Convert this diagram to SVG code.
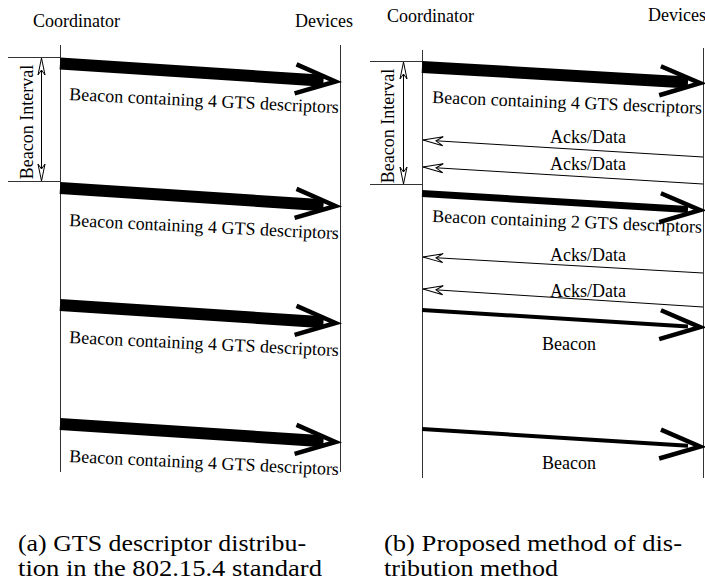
<svg xmlns="http://www.w3.org/2000/svg" width="705" height="581" viewBox="0 0 705 581">
<style>
text{font-family:"Liberation Serif","Times New Roman",serif;fill:#000}
.lbl{font-size:18px}
.cap{font-size:24px}
.life{stroke:#333;stroke-width:1;fill:none}
.tick{stroke:#333;stroke-width:1;fill:none}
.shaft{stroke:#000;fill:none;stroke-linecap:butt;marker-end:url(#chev)}
.ack{stroke:#000;stroke-width:1;fill:none;marker-end:url(#dart)}
.interval{stroke:#000;stroke-width:1;fill:none;marker-start:url(#openhead);marker-end:url(#openhead)}
</style>
<defs>
<marker id="chev" markerUnits="userSpaceOnUse" orient="auto" refX="-12" refY="0" markerWidth="60" markerHeight="40" viewBox="-50 -20 60 40" overflow="visible">
<path d="M-40,-14.5 L0,0 L-40,14.5" fill="none" stroke="#000" stroke-width="4.5" stroke-linejoin="miter"/>
</marker>
<marker id="dart" markerUnits="userSpaceOnUse" orient="auto" refX="0" refY="0" markerWidth="30" markerHeight="20" viewBox="-25 -10 30 20" overflow="visible">
<path d="M0,0 L-20,-4.5 L-13,0 L-20,4.5 Z" fill="#fff" stroke="#000" stroke-width="1"/>
</marker>
<marker id="openhead" markerUnits="userSpaceOnUse" orient="auto-start-reverse" refX="0" refY="0" markerWidth="30" markerHeight="20" viewBox="-25 -10 30 20" overflow="visible">
<path d="M0,0 L-17,-3.5 L-12,0 L-17,3.5 Z" fill="#fff" stroke="#000" stroke-width="1"/>
</marker>
</defs>

<!-- Panel (a) -->
<g id="a-coordinator">
<text class="lbl" x="33" y="27">Coordinator</text>
<line class="life" x1="60.5" y1="45" x2="60.5" y2="472"/>
</g>
<g id="a-devices">
<text class="lbl" x="353" y="27" text-anchor="end">Devices</text>
<line class="life" x1="340.5" y1="45" x2="340.5" y2="472"/>
</g>
<g id="a-interval">
<line class="tick" x1="8" y1="57.5" x2="60" y2="57.5"/>
<line class="tick" x1="8" y1="181.5" x2="60" y2="181.5"/>
<line class="interval" x1="41.5" y1="58" x2="41.5" y2="181"/>
<text class="lbl" text-anchor="middle" transform="translate(33,122) rotate(-90)">Beacon Interval</text>
</g>

<!-- Panel (b) -->
<g id="b-coordinator">
<text class="lbl" x="387" y="21.5">Coordinator</text>
<line class="life" x1="422.5" y1="50" x2="422.5" y2="478"/>
</g>
<g id="b-devices">
<text class="lbl" x="648" y="21">Devices</text>
<line class="life" x1="703.5" y1="48" x2="703.5" y2="478"/>
</g>
<g id="b-interval">
<line class="tick" x1="370" y1="61.5" x2="422" y2="61.5"/>
<line class="tick" x1="370" y1="184.5" x2="422" y2="184.5"/>
<line class="interval" x1="403.5" y1="62" x2="403.5" y2="184"/>
<text class="lbl" text-anchor="middle" transform="translate(394,126) rotate(-90)">Beacon Interval</text>
</g>

<g id="connectors">
<!-- (a) beacons -->
<line class="shaft" stroke-width="12" x1="60" y1="63.5" x2="323.5" y2="80.7"/>
<line class="shaft" stroke-width="12" x1="60" y1="188" x2="323.5" y2="205.2"/>
<line class="shaft" stroke-width="12" x1="60" y1="305" x2="323.5" y2="322.2"/>
<line class="shaft" stroke-width="12" x1="60" y1="424" x2="323.5" y2="441.2"/>
<!-- (b) -->
<line class="shaft" stroke-width="12" x1="422" y1="67" x2="688" y2="82.4"/>
<line class="ack" x1="703" y1="157" x2="423" y2="140"/>
<line class="ack" x1="703" y1="184" x2="423" y2="167"/>
<line class="shaft" stroke-width="7" x1="422" y1="193.5" x2="688" y2="209.4"/>
<line class="ack" x1="703" y1="273" x2="423" y2="257"/>
<line class="ack" x1="703" y1="307" x2="423" y2="289"/>
<line class="shaft" stroke-width="4" x1="422" y1="310" x2="688" y2="326.4"/>
<line class="shaft" stroke-width="4" x1="422" y1="429" x2="688" y2="445.8"/>
</g>

<g id="connector-labels">
<text class="lbl" transform="translate(69,100) rotate(2.8)">Beacon containing 4 GTS descriptors</text>
<text class="lbl" transform="translate(69,226) rotate(2.8)">Beacon containing 4 GTS descriptors</text>
<text class="lbl" transform="translate(69,343) rotate(2.8)">Beacon containing 4 GTS descriptors</text>
<text class="lbl" transform="translate(69,462) rotate(2.8)">Beacon containing 4 GTS descriptors</text>
<text class="lbl" transform="translate(432,103) rotate(2.3)">Beacon containing 4 GTS descriptors</text>
<text class="lbl" x="550" y="142.5">Acks/Data</text>
<text class="lbl" x="550" y="170">Acks/Data</text>
<text class="lbl" transform="translate(432,222) rotate(2.3)">Beacon containing 2 GTS descriptors</text>
<text class="lbl" x="550" y="260.5">Acks/Data</text>
<text class="lbl" x="550" y="297">Acks/Data</text>
<text class="lbl" x="542" y="350">Beacon</text>
<text class="lbl" x="542" y="469">Beacon</text>
</g>

<g id="captions">
<text class="cap" x="18" y="551" textLength="288" lengthAdjust="spacingAndGlyphs">(a) GTS descriptor distribu-</text>
<text class="cap" x="18" y="576" textLength="304" lengthAdjust="spacingAndGlyphs">tion in the 802.15.4 standard</text>
<text class="cap" x="384" y="551" textLength="298" lengthAdjust="spacingAndGlyphs">(b) Proposed method of dis-</text>
<text class="cap" x="384" y="576" textLength="174" lengthAdjust="spacingAndGlyphs">tribution method</text>
</g>
</svg>
